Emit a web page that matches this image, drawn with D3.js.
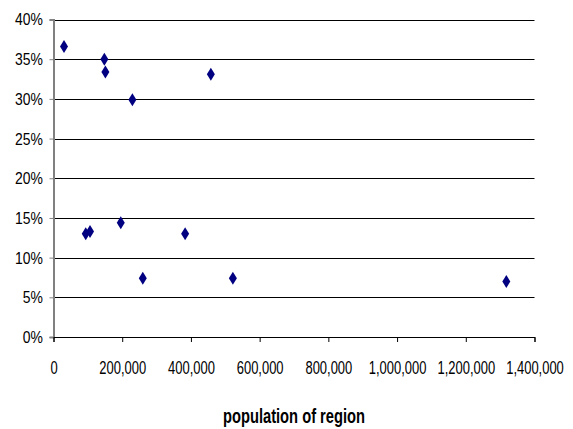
<!DOCTYPE html>
<html>
<head>
<meta charset="utf-8">
<script src="https://cdn.jsdelivr.net/npm/d3@7"></script>
<style>
  html, body { margin: 0; padding: 0; background: #fff; }
  svg { display: block; }
  text { font-family: "Liberation Sans Narrow", "Arial Narrow", "Liberation Sans", Arial, sans-serif; fill: #000; }
</style>
</head>
<body>
<svg id="chart" width="573" height="429"></svg>
<script>
// population of each region and its share (fraction)
const population = [30600, 148000, 151000, 229600, 458000, 93800, 106300, 195800, 259900, 383100, 522100, 1318000];
const share      = [0.366, 0.350, 0.334, 0.299, 0.331, 0.130, 0.133, 0.144, 0.074, 0.130, 0.074, 0.070];
const xTicks = [0, 200000, 400000, 600000, 800000, 1000000, 1200000, 1400000];
const yTicks = [0, 0.05, 0.10, 0.15, 0.20, 0.25, 0.30, 0.35, 0.40];
const xTitle = "population of region";

const svg = d3.select("#chart");
const plotLeft = 53.5, plotRight = 534.5, plotTop = 19.5, plotBottom = 337;

const x = d3.scaleLinear().domain([0, 1400000]).range([plotLeft, plotRight]);
const y = d3.scaleLinear().domain([0, 0.40]).range([plotBottom, plotTop]);

// narrow the glyphs horizontally around the text's anchor point
function condense(sel, k) {
  sel.each(function () {
    const t = d3.select(this);
    const ax = +t.attr("x") || 0;
    t.attr("x", ax / k).attr("transform", `scale(${k},1)`);
  });
}

// horizontal gridlines
svg.append("g")
  .selectAll("line")
  .data(yTicks.filter(d => d > 0))
  .join("line")
  .attr("x1", plotLeft).attr("x2", plotRight)
  .attr("y1", d => Math.round(y(d)) + 0.5).attr("y2", d => Math.round(y(d)) + 0.5)
  .attr("stroke", "#000").attr("stroke-width", 1);

// y axis
const yAxis = svg.append("g")
  .attr("transform", `translate(${plotLeft},0)`)
  .call(d3.axisLeft(y).tickValues(yTicks).tickFormat(d3.format(".0%")).tickSize(4).tickPadding(6.5));
yAxis.select(".domain").attr("stroke", "#808080").attr("stroke-width", 2);
yAxis.selectAll(".tick line").attr("stroke", "#808080");
yAxis.selectAll(".tick text").attr("font-size", 17).attr("font-family", null).call(condense, 0.82);

// x axis
const xAxis = svg.append("g")
  .attr("transform", `translate(0,${plotBottom})`)
  .call(d3.axisBottom(x).tickValues(xTicks).tickFormat(d3.format(",")).tickSize(5).tickPadding(19));
xAxis.select(".domain").attr("stroke", "#000").attr("stroke-width", 1);
xAxis.selectAll(".tick line").attr("stroke", "#000");
xAxis.selectAll(".tick text").attr("font-size", 18).attr("font-family", null).call(condense, 0.72);

// axis title
svg.append("g")
  .attr("transform", "translate(294,423)")
  .append("text")
  .attr("text-anchor", "middle")
  .attr("font-size", 20).attr("font-weight", "bold")
  .text(xTitle)
  .call(condense, 0.735);

// diamond markers
svg.append("g")
  .selectAll("path")
  .data(population.map((p, i) => [p, share[i]]))
  .join("path")
  .attr("transform", d => `translate(${x(d[0])},${y(d[1])})`)
  .attr("d", "M0,-6.5L4,0L0,6.5L-4,0Z")
  .attr("fill", "#000080");
</script>
</body>
</html>
